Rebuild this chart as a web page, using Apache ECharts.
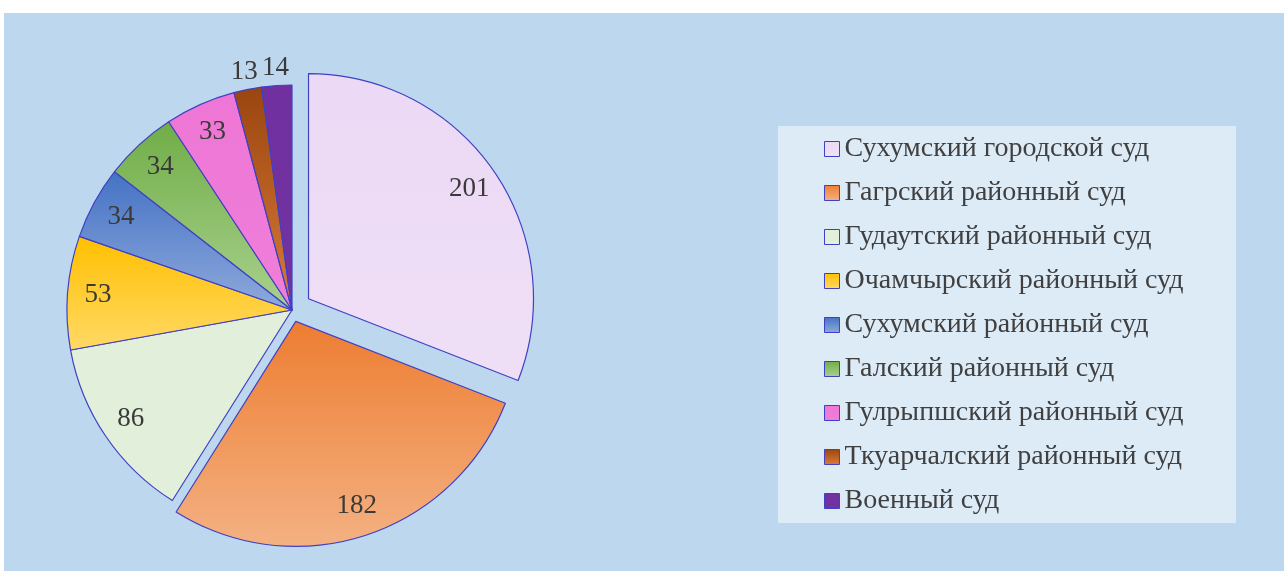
<!DOCTYPE html>
<html>
<head>
<meta charset="utf-8">
<script src="https://cdn.jsdelivr.net/npm/echarts@6/dist/echarts.min.js"></script>
<style>
    html, body { margin: 0; padding: 0; background: #fff; }
    #chart { width: 1284px; height: 571px; }
</style>
</head>
<body>
<div id="chart"></div>
<script>
const courtNames = [
    'Сухумский городской суд',
    'Гагрский районный суд',
    'Гудаутский районный суд',
    'Очамчырский районный суд',
    'Сухумский районный суд',
    'Галский районный суд',
    'Гулрыпшский районный суд',
    'Ткуарчалский районный суд',
    'Военный суд'
];
const caseCounts = [201, 182, 86, 53, 34, 34, 33, 13, 14];
const topColors = ['#ecd9f5', '#ed7d31', '#e2efda', '#ffc000', '#4472c4', '#70ad47', '#ee76d6', '#9a450f', '#7030a0'];
const bottomColors = ['#efdff6', '#f4b183', '#e2efda', '#ffd966', '#8faadc', '#a9d18e', '#ef7fd9', '#da7b3a', '#7232a2'];
// how far each slice is pulled out of the pie
const explodeOffsets = [20, 12, 0, 0, 0, 0, 0, 0, 0];

(() => {
    const chartElement = document.querySelector('#chart');
    const chart = echarts.init(chartElement);

    const centerX = 292;
    const centerY = 310;
    const radius = 225;
    const borderColor = '#4040c4';
    const fontFamily = '"Liberation Serif", "Times New Roman", serif';

    const total = caseCounts.reduce((a, b) => a + b, 0);

    function fillFor(index) {
        return new echarts.graphic.LinearGradient(0, 0, 0, 1, [
            { offset: 0, color: topColors[index] },
            { offset: 1, color: bottomColors[index] }
        ]);
    }

    function midAngleOf(index) {
        let before = 0;
        for (let i = 0; i < index; i++) {
            before += caseCounts[i];
        }
        return ((before + caseCounts[index] / 2) / total) * Math.PI * 2;
    }

    function pointAt(index, distance) {
        const angle = midAngleOf(index);
        return [
            centerX + distance * Math.sin(angle),
            centerY - distance * Math.cos(angle)
        ];
    }

    // label anchor: inside near the rim, outside for the thin slices
    function labelPoint(index) {
        const share = caseCounts[index] / total;
        const distance = share < 0.03 ? radius * 1.08 : radius * 0.865;
        return pointAt(index, distance + explodeOffsets[index]);
    }

    function buildSeries(name, pieCenter, isVisible) {
        return {
            name,
            type: 'pie',
            center: pieCenter,
            radius: [0, radius],
            startAngle: 90,
            clockwise: true,
            animation: false,
            silent: true,
            itemStyle: {
                borderColor,
                borderWidth: 1.2
            },
            label: {
                show: true,
                position: 'inside',
                formatter: '{c}',
                color: '#3a3a3a',
                fontFamily,
                fontSize: 27
            },
            labelLine: { show: false },
            emphasis: { disabled: true },
            labelLayout(params) {
                const point = labelPoint(params.dataIndex);
                return {
                    x: point[0],
                    y: point[1],
                    align: 'center',
                    verticalAlign: 'middle'
                };
            },
            data: courtNames.map((courtName, index) => {
                const visible = isVisible(index);
                return {
                    name: courtName,
                    value: caseCounts[index],
                    itemStyle: {
                        color: fillFor(index),
                        opacity: visible ? 1 : 0
                    },
                    label: { show: visible }
                };
            })
        };
    }

    const series = [buildSeries('base', [centerX, centerY], (index) => explodeOffsets[index] === 0)];
    explodeOffsets.forEach((offset, index) => {
        if (offset > 0) {
            series.push(buildSeries('explode' + index, pointAt(index, offset), (i) => i === index));
        }
    });

    chart.setOption({
        animation: false,
        backgroundColor: '#ffffff',
        graphic: [
            {
                type: 'rect',
                z: 0,
                silent: true,
                shape: { x: 4, y: 13, width: 1280, height: 558 },
                style: { fill: '#bdd7ee' }
            },
            {
                type: 'rect',
                z: 0,
                silent: true,
                shape: { x: 778, y: 126, width: 458, height: 397 },
                style: { fill: '#ddebf7' }
            }
        ],
        legend: {
            orient: 'vertical',
            left: 824,
            top: 134,
            padding: 0,
            itemWidth: 15,
            itemHeight: 15,
            itemGap: 14,
            icon: 'rect',
            selectedMode: false,
            textStyle: {
                color: '#404040',
                fontFamily,
                fontSize: 28,
                lineHeight: 30
            },
            data: courtNames.map((name, index) => ({
                name,
                itemStyle: {
                    color: fillFor(index),
                    opacity: 1,
                    borderColor,
                    borderWidth: 1
                }
            }))
        },
        series
    });
})();
</script>
</body>
</html>
